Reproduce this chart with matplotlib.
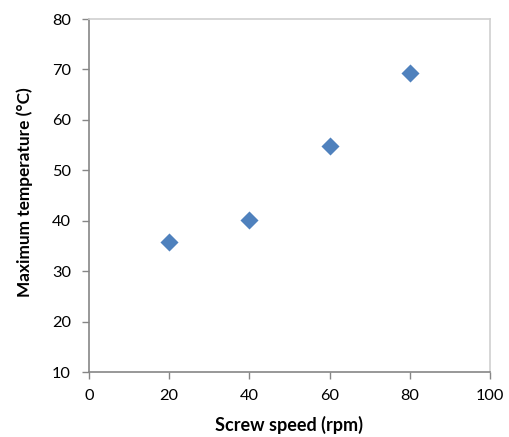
import matplotlib
matplotlib.use("Agg")
import matplotlib.pyplot as plt

screw_speed = [20, 40, 60, 80]
max_temp = [35.8, 40.1, 54.8, 69.3]
xticks = [0, 20, 40, 60, 80, 100]
yticks = [10, 20, 30, 40, 50, 60, 70, 80]

plt.rcParams['font.family'] = ['Lato', 'DejaVu Sans']

fig = plt.figure(figsize=(5.10, 4.37), dpi=100)
ax = fig.add_axes([89/510, 1-372/437, (490-89)/510, (372-19)/437])
ax.scatter(screw_speed, max_temp, marker='D', s=9.2**2, color='#4F81BD', linewidths=0, zorder=3)
ax.set_xlim(0, 100)
ax.set_ylim(10, 80)
ax.set_xticks(xticks)
ax.set_yticks(yticks)
ax.tick_params(direction='out', length=5, width=1, color='#868686', labelsize=11.8)
ax.tick_params(axis='y', pad=8)
ax.tick_params(axis='x', pad=7)
for s in ['left', 'bottom']:
    ax.spines[s].set_color('#868686')
    ax.spines[s].set_linewidth(1.2)
for s in ['top', 'right']:
    ax.spines[s].set_color('#D0D0D0')
    ax.spines[s].set_linewidth(1.2)
ax.set_xlabel('Screw speed (rpm)', fontsize=13, fontweight='bold')
ax.set_ylabel('Maximum temperature (°C)', fontsize=12.4, fontweight='bold')
ax.xaxis.set_label_coords(((363+215)/2 - 89)/(490-89), -(425-372)/(372-19))
ax.xaxis.label.set_va('center')
ax.yaxis.set_label_coords(-(89-25)/(490-89), (372-192.5)/(372-19))
ax.yaxis.label.set_va('center')
fig.savefig('out.png', dpi=100)
